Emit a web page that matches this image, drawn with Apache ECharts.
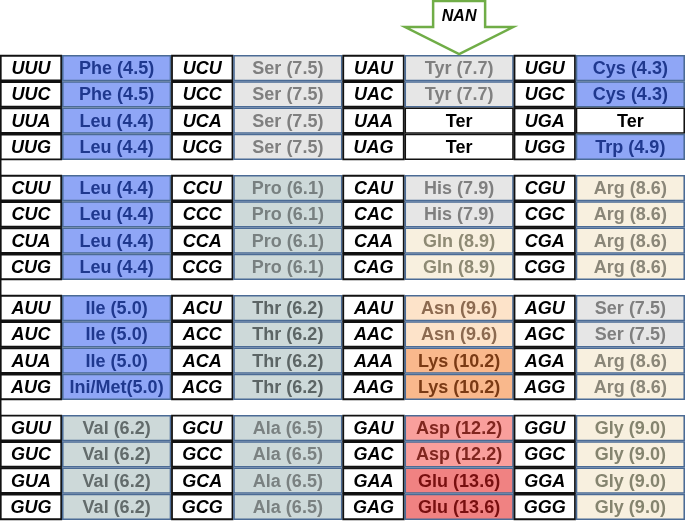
<!DOCTYPE html>
<html>
<head>
<meta charset="utf-8">
<script src="https://cdn.jsdelivr.net/npm/echarts@6/dist/echarts.min.js"></script>
<style>html,body{margin:0;padding:0;background:#fff}#c{width:685px;height:521px}</style>
</head>
<body>
<div id="c"></div>
<script>
// Second-base columns and first-base groups
const secondBases = ['U', 'C', 'A', 'G'];
const firstBases = ['U', 'C', 'A', 'G'];

const codons = [
  'UUU','UUC','UUA','UUG','UCU','UCC','UCA','UCG','UAU','UAC','UAA','UAG','UGU','UGC','UGA','UGG',
  'CUU','CUC','CUA','CUG','CCU','CCC','CCA','CCG','CAU','CAC','CAA','CAG','CGU','CGC','CGA','CGG',
  'AUU','AUC','AUA','AUG','ACU','ACC','ACA','ACG','AAU','AAC','AAA','AAG','AGU','AGC','AGA','AGG',
  'GUU','GUC','GUA','GUG','GCU','GCC','GCA','GCG','GAU','GAC','GAA','GAG','GGU','GGC','GGA','GGG'
];

const aminoAcids = [
  'Phe','Phe','Leu','Leu','Ser','Ser','Ser','Ser','Tyr','Tyr','Ter','Ter','Cys','Cys','Ter','Trp',
  'Leu','Leu','Leu','Leu','Pro','Pro','Pro','Pro','His','His','Gln','Gln','Arg','Arg','Arg','Arg',
  'Ile','Ile','Ile','Ini/Met','Thr','Thr','Thr','Thr','Asn','Asn','Lys','Lys','Ser','Ser','Arg','Arg',
  'Val','Val','Val','Val','Ala','Ala','Ala','Ala','Asp','Asp','Glu','Glu','Gly','Gly','Gly','Gly'
];

const values = [
  4.5,4.5,4.4,4.4, 7.5,7.5,7.5,7.5, 7.7,7.7,null,null, 4.3,4.3,null,4.9,
  4.4,4.4,4.4,4.4, 6.1,6.1,6.1,6.1, 7.9,7.9,8.9,8.9, 8.6,8.6,8.6,8.6,
  5.0,5.0,5.0,5.0, 6.2,6.2,6.2,6.2, 9.6,9.6,10.2,10.2, 7.5,7.5,8.6,8.6,
  6.2,6.2,6.2,6.2, 6.5,6.5,6.5,6.5, 12.2,12.2,13.6,13.6, 9.0,9.0,9.0,9.0
];

const arrowLabel = 'NAN';
const arrowColumn = 2; // points at the 'A' second-base column

// styles
const GAP = 0.57;          // gap between first-base groups, in row units
const CODON_FRAC = 0.362;  // share of a column taken by the codon cell
const FONT = '"Liberation Sans", Arial, sans-serif';
const styles = {
  'Phe': ['#8FA6F6', '#1F388E'], 'Leu': ['#8FA6F6', '#1F388E'], 'Ile': ['#8FA6F6', '#1F388E'],
  'Ini/Met': ['#8FA6F6', '#1F388E'], 'Cys': ['#8FA6F6', '#1F388E'], 'Trp': ['#8FA6F6', '#1F388E'],
  'Ser': ['#E6E6E6', '#7F7F7F'], 'Tyr': ['#E6E6E6', '#808080'], 'His': ['#E6E6E6', '#7F7F7F'],
  'Pro': ['#CDD9D9', '#788080'], 'Thr': ['#CDD9D9', '#5C6565'], 'Val': ['#CDD9D9', '#626B6B'],
  'Ala': ['#CDD9D9', '#7A8181'],
  'Gln': ['#F8F0DF', '#8E8A74'], 'Arg': ['#F8F0DF', '#8A8678'], 'Gly': ['#F8F0DF', '#85846F'],
  'Asn': ['#FDE3C9', '#8C6A50'], 'Lys': ['#F9B88C', '#7A3A14'],
  'Asp': ['#F99F9C', '#80261F'], 'Glu': ['#F08282', '#780F0F'],
  'Ter': ['#FFFFFF', '#000000']
};

function aaLabel(i) {
  const n = aminoAcids[i], v = values[i];
  if (v == null) return n;
  return n + (n.indexOf('/') >= 0 ? '' : ' ') + '(' + v.toFixed(1) + ')';
}

const cellData = codons.map((c, i) => {
  const g = Math.floor(i / 16), col = Math.floor(i / 4) % 4, r = i % 4;
  return [col, g * (4 + GAP) + r];
});

const chart = echarts.init(document.getElementById('c'));
chart.setOption({
  animation: false,
  grid: { left: 0, right: 0, top: 55, bottom: 1 },
  xAxis: { type: 'category', data: secondBases, boundaryGap: true, show: false },
  yAxis: { type: 'value', min: 0, max: 16 + 3 * GAP, inverse: true, show: false },
  series: [
    {
      type: 'custom',
      data: cellData,
      encode: { x: 0, y: 1 },
      renderItem: function (params, api) {
        const i = params.dataIndex;
        const p = api.coord([api.value(0), api.value(1)]);
        const bw = api.size([1, 0])[0];
        const rh = api.size([0, 1])[1];
        const left = p[0] - bw / 2, top = p[1];
        const cw = bw * CODON_FRAC, aw = bw - cw;
        const st = styles[aminoAcids[i]];
        const isTer = aminoAcids[i] === 'Ter';
        const children = [
          { type: 'rect', shape: { x: left + 0.75, y: top + 0.75, width: cw - 1.5, height: rh - 1.5 },
            style: { fill: '#FFFFFF', stroke: '#111111', lineWidth: 1.8 } },
          { type: 'text', style: { x: left + cw / 2, y: top + rh / 2 + 1, text: codons[i], fill: '#000000',
            font: 'italic bold 18px ' + FONT, align: 'center', verticalAlign: 'middle' } },
          { type: 'rect', shape: { x: left + cw + 0.75, y: top + 0.75, width: aw - 1.5, height: rh - 1.5 },
            style: { fill: st[0], stroke: isTer ? '#111111' : '#4B6B95', lineWidth: 1.6 } },
          { type: 'text', style: { x: left + cw + aw / 2, y: top + rh / 2 + 1, text: aaLabel(i), fill: st[1],
            font: 'bold 18px ' + FONT, align: 'center', verticalAlign: 'middle' } }
        ];
        // separator strip between first-base groups: left border line only
        const r = i % 4, g = Math.floor(i / 16), col = Math.floor(i / 4) % 4;
        if (r === 3 && g < 3 && col === 0) {
          children.push({ type: 'line', shape: { x1: left + 0.75, y1: top + rh, x2: left + 0.75, y2: top + rh + GAP * rh },
            style: { stroke: '#111111', lineWidth: 1.5 } });
        }
        return { type: 'group', children: children };
      }
    },
    {
      type: 'custom',
      data: [[arrowColumn, 0]],
      encode: { x: 0, y: 1 },
      z: 5,
      renderItem: function (params, api) {
        const p = api.coord([api.value(0), api.value(1)]);
        const bw = api.size([1, 0])[0];
        const cw = bw * CODON_FRAC, aw = bw - cw;
        const cx = p[0] - bw / 2 + cw + aw / 2;
        const top = p[1];
        return {
          type: 'group',
          children: [
            { type: 'polygon', shape: { points: [
                [cx - 26, top - 54], [cx + 26, top - 54], [cx + 26, top - 28], [cx + 54, top - 28],
                [cx, top - 1], [cx - 54, top - 28], [cx - 26, top - 28]] },
              style: { fill: '#FFFFFF', stroke: '#70AD47', lineWidth: 2.5 } },
            { type: 'text', style: { x: cx, y: top - 38, text: arrowLabel, fill: '#000000',
              font: 'italic bold 16px ' + FONT, align: 'center', verticalAlign: 'middle' } }
          ]
        };
      }
    }
  ]
});
</script>
</body>
</html>
